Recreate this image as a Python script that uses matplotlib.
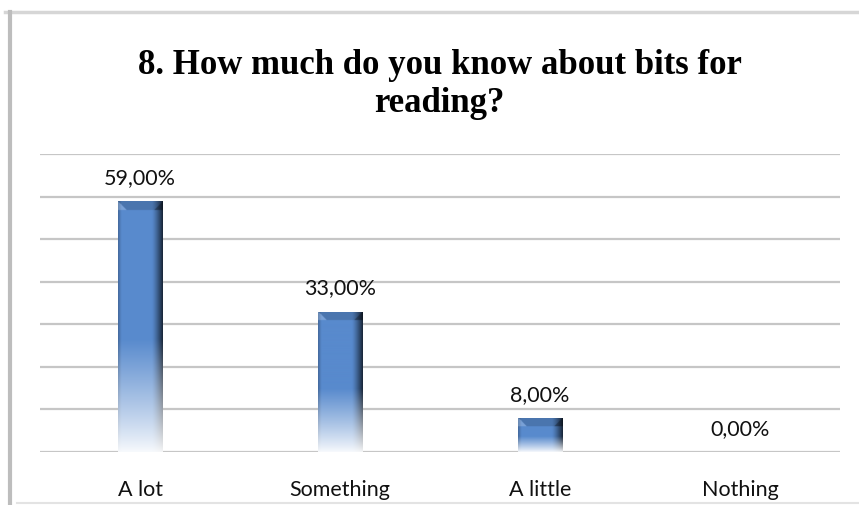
import numpy as np
import matplotlib
matplotlib.use("Agg")
import matplotlib.pyplot as plt
from matplotlib.lines import Line2D

categories = ["A lot", "Something", "A little", "Nothing"]
values = [59.0, 33.0, 8.0, 0.0]
labels = ["59,00%", "33,00%", "8,00%", "0,00%"]
title = "8. How much do you know about bits for\nreading?"


def bar_image(w, h):
    # gradient picture for one bar, w x h pixels
    w = max(int(round(w)), 2)
    h = max(int(round(h)), 2)
    u = (np.arange(w) + 0.5) / w
    v = np.arange(h) + 0.5          # pixels from the top
    base = np.array([88, 138, 205]) / 255.0
    img = np.tile(base, (h, w, 1))
    # darker right side, slightly darker left edge
    dark = np.clip((u - 0.75) / 0.25, 0, 1) ** 1.3
    img = img * (1 - 0.75 * dark)[None, :, None]
    ledge = np.clip((0.08 - u) / 0.08, 0, 1)
    img = img * (1 - 0.25 * ledge)[None, :, None]
    # top bevel
    bh = min(18.0, h / 3.0)
    xs = u * w
    for i in range(h):
        if v[i] < bh:
            left = xs < v[i]
            right = xs > w - v[i]
            mid = ~(left | right)
            img[i, mid] = img[i, mid] * 0.85
            img[i, left] = img[i, left] * 0.8 + 0.2
            img[i, right] = img[i, right] * 0.6
    # fade to white at the bottom
    d = h - v
    fade = np.clip(d / (0.45 * h), 0, 1) ** 0.9
    fade = 0.04 + 0.96 * fade
    img = 1 - (1 - img) * fade[:, None, None]
    return np.clip(img, 0, 1)


fig = plt.figure(figsize=(8.59, 5.06), dpi=100)
ax = fig.add_axes([0.0466, 0.1047, 0.9313, 0.5885])

x = np.arange(len(categories))
bars = ax.bar(x, values, width=0.225, facecolor="none", edgecolor="none", zorder=3)
ax.set_xlim(-0.5, len(categories) - 0.5)
ax.set_ylim(0, 70)
ax.set_yticks(np.arange(0, 71, 10))
ax.yaxis.grid(True, color="#c6c6c6", linewidth=1.6)
ax.set_axisbelow(True)
for s in ax.spines.values():
    s.set_visible(False)
ax.tick_params(axis="y", left=False, labelleft=False)
ax.tick_params(axis="x", bottom=False, pad=16)
ax.set_xticks(x)
ax.set_xticklabels(categories, fontsize=15.5, family="Lato", color="#111111")

fig.canvas.draw()
for b in bars:
    if b.get_height() <= 0:
        continue
    bb = b.get_window_extent()
    img = bar_image(bb.width * 2, bb.height * 2)
    x0 = b.get_x()
    im = ax.imshow(img, extent=(x0, x0 + b.get_width(), 0, b.get_height()),
                   aspect="auto", zorder=4, interpolation="bilinear")
    im.set_clip_path(b)

for xi, val, lab in zip(x, values, labels):
    ax.annotate(lab, (xi, val), xytext=(0, 13), textcoords="offset points",
                ha="center", va="baseline", fontsize=15.5, family="Lato",
                color="#111111")

fig.text(0.512, 0.779, title, ha="center", va="baseline", fontsize=25,
         family="Liberation Serif", fontweight="bold", linespacing=1.2)

# outer frame of the chart
fig.add_artist(Line2D([0.006, 1.0], [0.974, 0.974], color="#d6d6d6", lw=2.5,
                      transform=fig.transFigure))
fig.add_artist(Line2D([0.012, 0.012], [0.0, 0.974], color="#bdbdbd", lw=3,
                      transform=fig.transFigure))
fig.add_artist(Line2D([0.02, 1.0], [0.004, 0.004], color="#e3e3e3", lw=1.5,
                      transform=fig.transFigure))

fig.savefig("out.png", dpi=100, facecolor="white")
